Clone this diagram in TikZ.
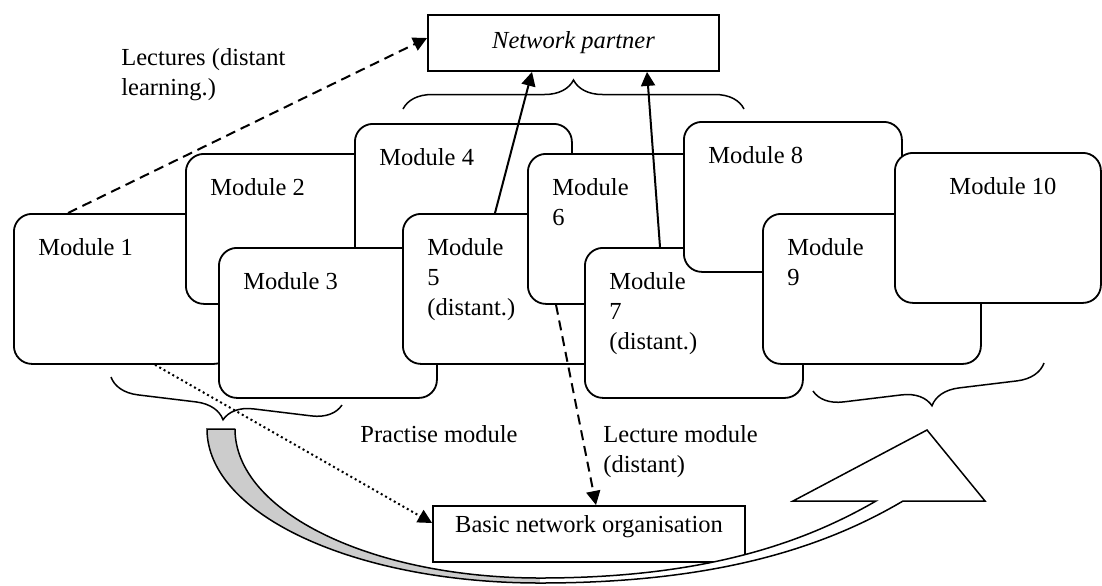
\documentclass[tikz,border=0pt]{standalone}
\usepackage{fontspec}
\setmainfont{Liberation Serif}
\usetikzlibrary{arrows.meta,decorations.pathreplacing}
\definecolor{bandgray}{RGB}{204,204,204}

\begin{document}
\begin{tikzpicture}[
    x=0.5pt, y=-0.5pt,
    every node/.style={font=\fontsize{12.25pt}{15pt}\selectfont},
    module/.style={draw, fill=white, line width=0.9pt, rounded corners=9pt,
        anchor=north west, inner sep=0, minimum width=109pt, minimum height=75pt},
    modtext/.style={anchor=north west, inner sep=0, align=left},
    plainbox/.style={draw, fill=white, line width=0.9pt, inner sep=0},
    arr/.style={-{Triangle[length=7pt,width=7pt]}, line width=1pt},
    dashline/.style={dash pattern=on 5pt off 3pt},
    dotline/.style={dash pattern=on 1pt off 1.5pt},
    curly/.style={decorate, decoration={brace, amplitude=14.5pt}, line width=0.75pt},
    bandline/.style={line width=0.75pt, line join=miter}]
\useasboundingbox (0,0) rectangle (1102,585);

% modules, back to front
\node[module] (m1) at (13,213) {};
\node[modtext] (t1) at ([shift={(25,25)}]m1.north west) {Module 1};
\node[module] (m2) at (185,153) {};
\node[modtext] (t2) at ([shift={(25,25)}]m2.north west) {Module 2};
\node[module, minimum width=108.5pt] (m4) at (354,123) {};
\node[modtext] (t4) at ([shift={(25,25)}]m4.north west) {Module 4};
\node[module] (m3) at (218,247) {};
\node[modtext] (t3) at ([shift={(25,25)}]m3.north west) {Module 3};
\node[module] (m5) at (402,213) {};
\node[modtext] (t5) at ([shift={(25,25)}]m5.north west) {Module\\5\\(distant.)};
\node[module] (m6) at (527,153) {};
\node[modtext] (t6) at ([shift={(25,25)}]m6.north west) {Module\\6};
\node[module] (m7) at (584,247) {};
\node[modtext] (t7) at ([shift={(25,25)}]m7.north west) {Module\\7\\(distant.)};
\node[module] (m8) at (683,121) {};
\node[modtext] (t8) at ([shift={(25,25)}]m8.north west) {Module 8};
\node[module] (m9) at (762,213) {};
\node[modtext] (t9) at ([shift={(25,25)}]m9.north west) {Module\\9};
\node[module, minimum width=103pt] (m10) at (894,152) {};
\node[modtext, anchor=north] (t10) at ([shift={(5,25)}]m10.north) {Module 10};

% partner and organisation
\node[plainbox, minimum width=145.5pt, minimum height=28pt] (np) at (573.5,43) {\itshape Network partner};
\node[plainbox, minimum width=156pt, text height=13.5pt, text depth=14.5pt, anchor=north] (org) at (589,505) {Basic network organisation};

% labels
\node[modtext] (lect) at (121,48) {Lectures (distant\\learning.)};
\node[modtext] (prac) at (360,425) {Practise module};
\node[modtext] (lecm) at (603,425) {Lecture module\\(distant)};

% braces
\draw[curly] (403,109) -- (744,109);
\draw[curly] (342,405) -- (111,377);
\draw[curly] (1044,363) -- (813,391);

% connectors
\draw[arr, dashline] ([shift={(55,0)}]m1.north west) -- ([shift={(0,-5)}]np.west);
\draw[arr] ([shift={(93,0)}]m5.north west) -- ([shift={(-41.5,0)}]np.south);
\draw[arr] ([shift={(76,0)}]m7.north west) -- ([shift={(73.5,0)}]np.south);
\draw[arr, dashline] ([shift={(29,0)}]m6.south west) -- ([shift={(7,0)}]org.north);
\draw[arr, dotline] ([shift={(142,0)}]m1.south west) -- ([shift={(0,18)}]org.north west);

% curved up arrow
\path[fill=bandgray] (207,429) .. controls (207,515) and (356,583) .. (540,583)
    -- (540,578) .. controls (372,578) and (235,512) .. (235,429) -- cycle;
\path[fill=white] (540,578) .. controls (700,578) and (800,545) .. (876,501)
    -- (793,501) -- (927,430) -- (985,501) -- (903,501)
    .. controls (820,550) and (710,583) .. (540,583) -- cycle;
\draw[bandline] (235,429) -- (207,429) .. controls (207,515) and (356,583) .. (540,583)
    .. controls (710,583) and (820,550) .. (903,501) -- (985,501) -- (927,430)
    -- (793,501) -- (876,501) .. controls (800,545) and (700,578) .. (540,578)
    .. controls (372,578) and (235,512) .. (235,429);

\end{tikzpicture}
\end{document}
